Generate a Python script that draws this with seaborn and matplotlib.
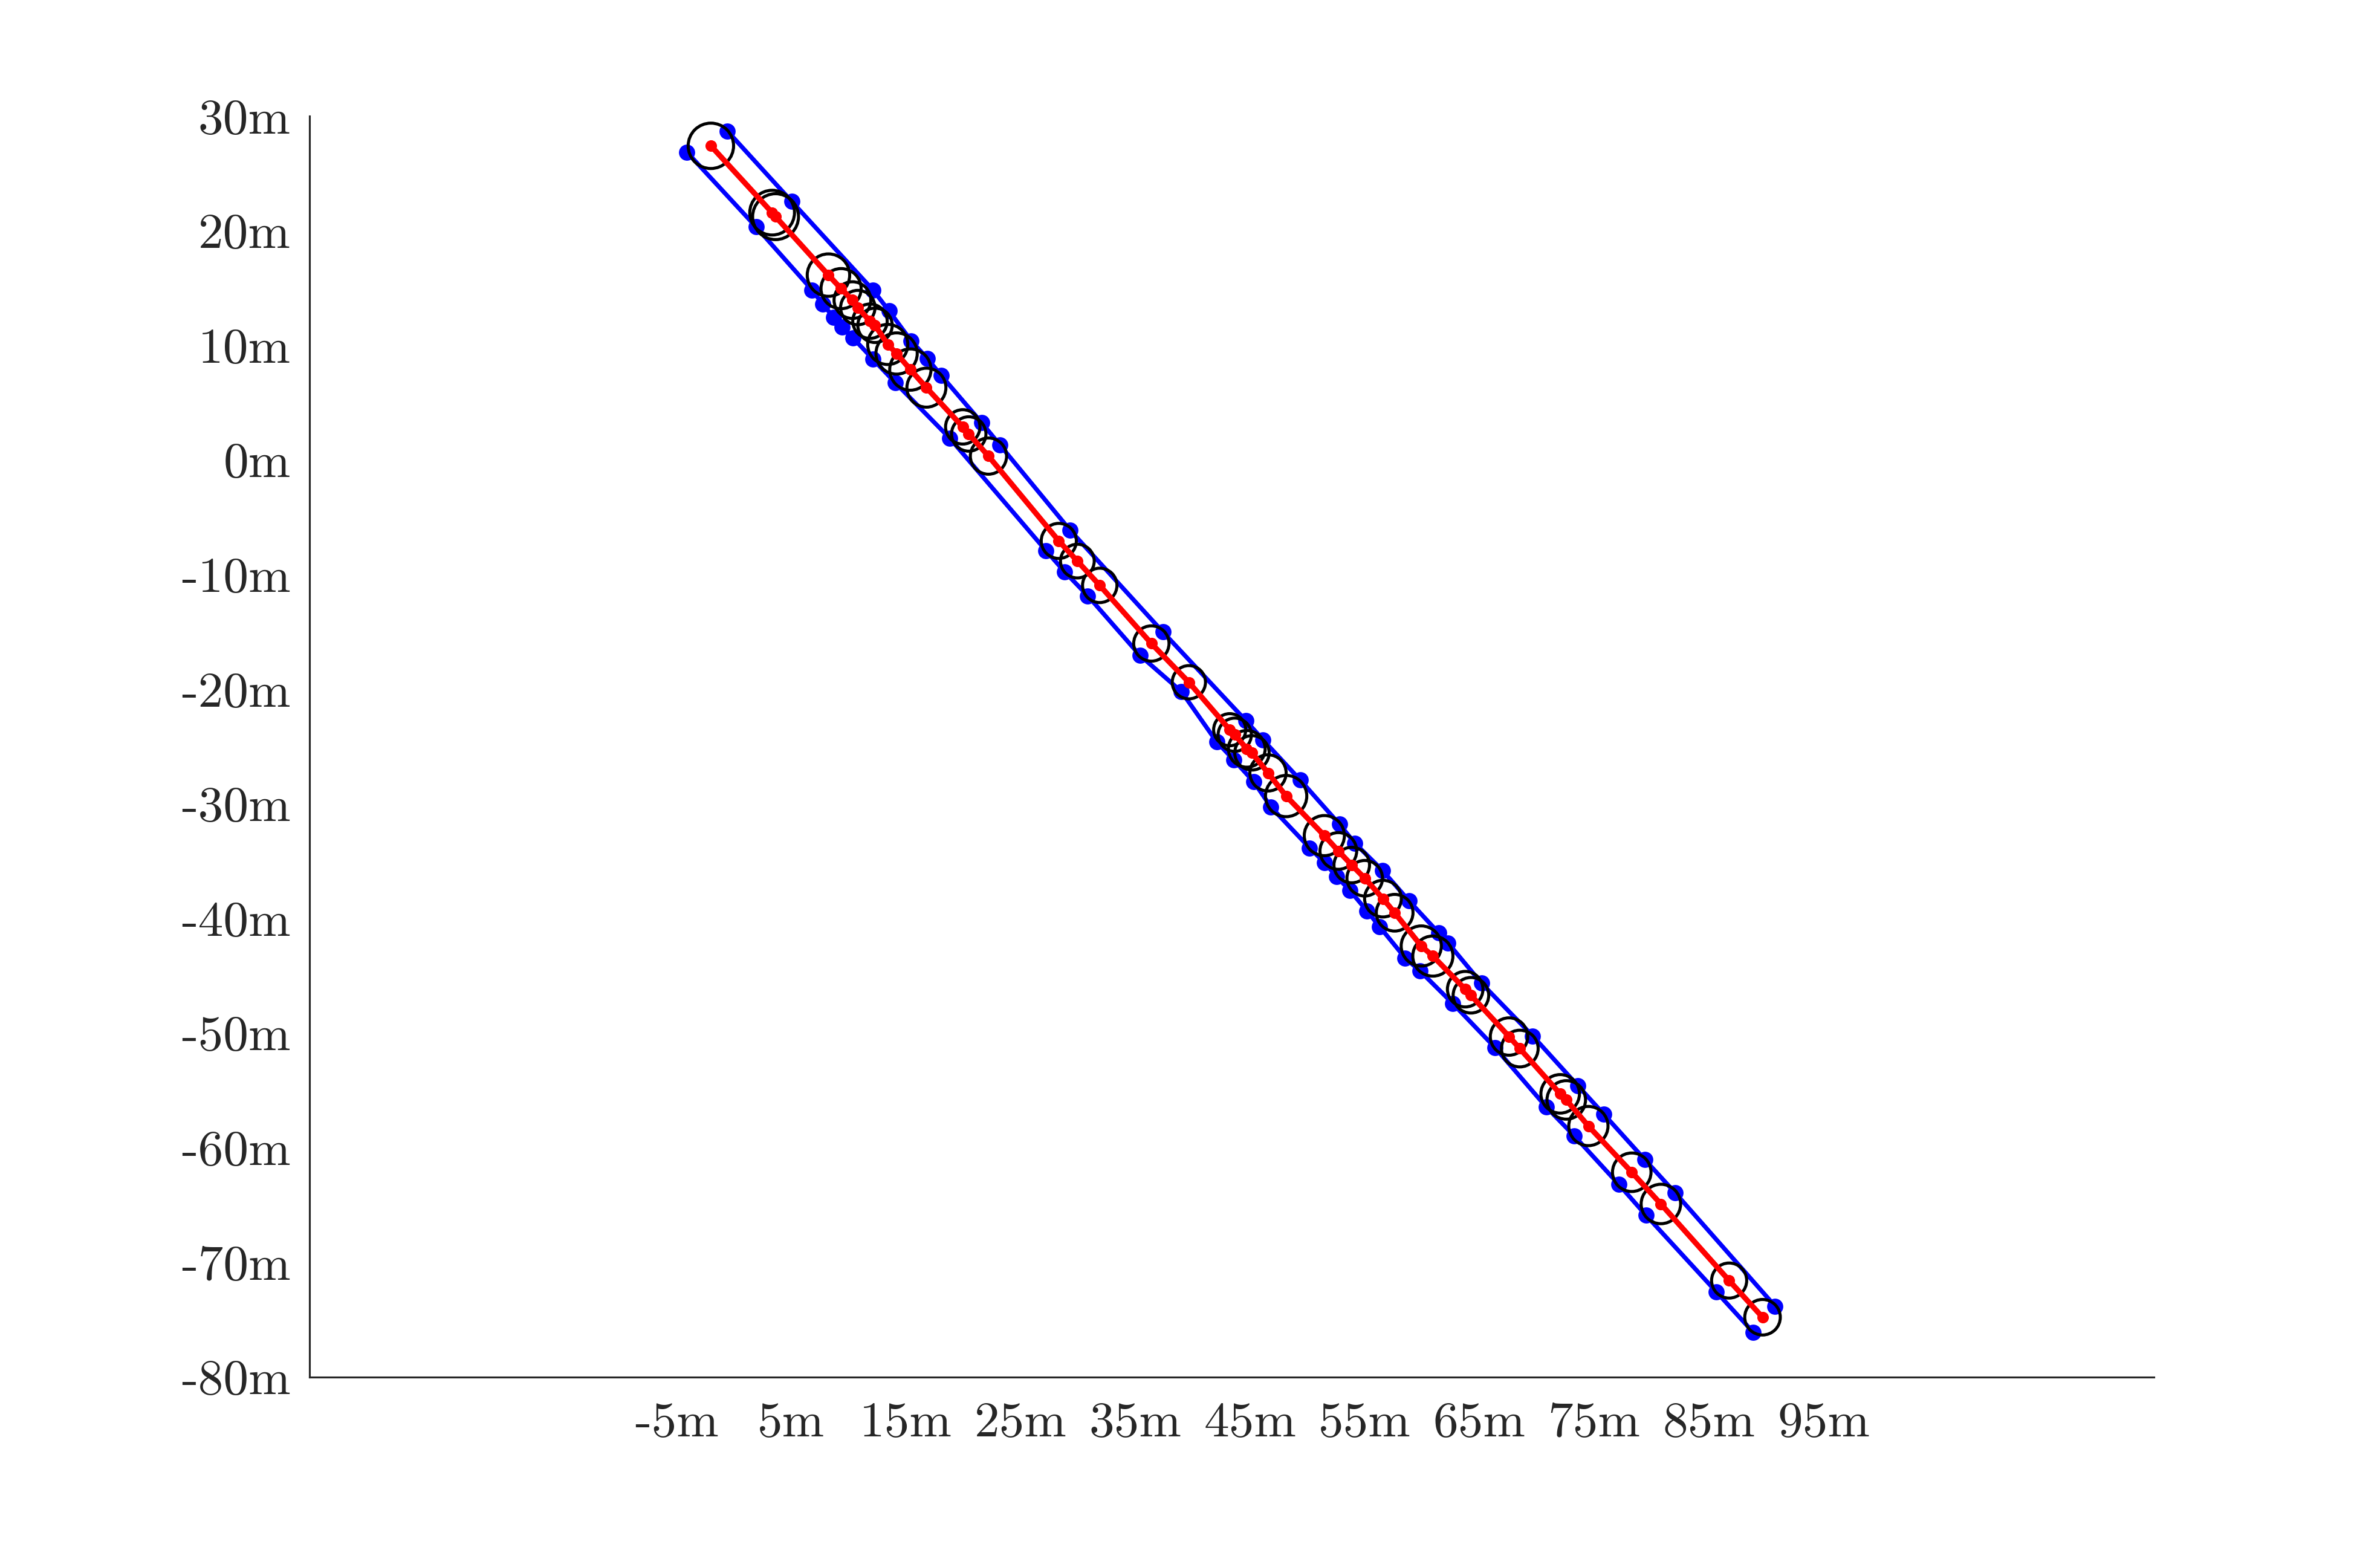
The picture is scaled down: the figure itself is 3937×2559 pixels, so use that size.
import numpy as np
import pandas as pd
import matplotlib
matplotlib.use("Agg")
import matplotlib.pyplot as plt
from matplotlib.patches import Circle
import seaborn as sns

# centre line samples (m)
center_x = [-2.00, 3.34, 3.64, 8.25, 9.35, 10.34, 10.81, 11.87, 12.31, 13.42,
            14.19, 15.39, 16.79, 19.96, 20.48, 22.20, 28.33, 29.95, 31.90, 36.40,
            39.67, 43.23, 43.67, 44.72, 45.17, 46.57, 48.15, 51.48, 52.70, 53.87,
            55.00, 56.59, 57.61, 59.93, 60.94, 63.76, 64.26, 67.58, 68.52, 72.04,
            72.57, 74.50, 78.28, 80.82, 86.77, 89.68]
center_y = [27.40, 21.57, 21.22, 16.12, 14.94, 13.94, 13.29, 12.10, 11.74, 10.07,
            9.28, 7.88, 6.30, 2.88, 2.26, 0.33, -7.07, -8.83, -10.95, -16.02,
            -19.40, -23.54, -23.98, -25.21, -25.56, -27.31, -29.33, -32.78, -34.12, -35.35,
            -36.50, -38.28, -39.51, -42.41, -43.29, -46.18, -46.71, -50.31, -51.36, -55.31,
            -55.84, -58.12, -62.15, -64.92, -71.60, -74.80]
# circle radius at each centre sample (m)
radius = [1.98, 1.95, 2.00, 1.85, 1.75, 1.60, 1.50, 1.50, 1.50, 1.75,
          1.80, 1.80, 1.70, 1.50, 1.50, 1.58, 1.53, 1.47, 1.50, 1.54,
          1.45, 1.40, 1.45, 1.60, 1.50, 1.58, 1.80, 1.75, 1.60, 1.55,
          1.55, 1.60, 1.60, 1.75, 1.75, 1.55, 1.55, 1.63, 1.60, 1.68,
          1.68, 1.71, 1.68, 1.72, 1.53, 1.55]

# right (upper) boundary samples
right_x = [-0.55, 5.05, 12.15, 13.53, 15.45, 16.87, 18.08, 21.62, 23.20, 29.32,
           37.41, 44.64, 46.13, 49.38, 52.80, 54.15, 56.55, 58.85, 61.45, 62.26,
           65.18, 69.65, 73.59, 75.83, 79.43, 82.07, 90.77]
right_y = [28.68, 22.54, 14.80, 13.00, 10.40, 8.85, 7.36, 3.23, 1.30, -6.14,
           -15.02, -22.75, -24.42, -27.93, -31.79, -33.45, -35.82, -38.46, -41.27, -42.14,
           -45.66, -50.26, -54.61, -57.07, -61.06, -63.95, -73.83]

# left (lower) boundary samples
left_x = [-4.08, 1.93, 6.82, 7.75, 8.70, 9.45, 10.38, 12.12, 14.07, 18.81,
          27.21, 28.84, 30.86, 35.40, 39.02, 42.09, 43.58, 45.34, 46.83, 50.20,
          51.52, 52.55, 53.72, 55.19, 56.31, 58.53, 59.83, 62.66, 66.36, 70.82,
          73.28, 77.15, 79.52, 85.67, 88.87]
left_y = [26.84, 20.34, 14.83, 13.59, 12.44, 11.61, 10.65, 8.80, 6.74, 1.91,
          -7.91, -9.76, -11.86, -17.05, -20.21, -24.59, -26.17, -28.10, -30.29, -33.85,
          -35.16, -36.35, -37.58, -39.34, -40.74, -43.46, -44.60, -47.41, -51.27, -56.45,
          -58.99, -63.21, -65.90, -72.60, -76.11]

xticks = [-5, 5, 15, 25, 35, 45, 55, 65, 75, 85, 95]
yticks = [30, 20, 10, 0, -10, -20, -30, -40, -50, -60, -70, -80]

sns.set_style("white")
plt.rcParams['font.family'] = ['cmr10', 'DejaVu Serif']
plt.rcParams['axes.unicode_minus'] = False
plt.rcParams['axes.formatter.use_mathtext'] = True

center = pd.DataFrame({'x': center_x, 'y': center_y})
right = pd.DataFrame({'x': right_x, 'y': right_y})
left = pd.DataFrame({'x': left_x, 'y': left_y})

fig = plt.figure(figsize=(3937 / 250, 2559 / 250), dpi=250)
ax = fig.add_axes([0.13, 0.11, 0.775, 0.815])

# boundaries
for b in (right, left):
    sns.lineplot(data=b, x='x', y='y', sort=False, estimator=None, ax=ax,
                 color='blue', lw=2.1, marker='o', markersize=7.7,
                 markeredgewidth=0, zorder=2)

# circles around centre samples
for cx, cy, r in zip(center_x, center_y, radius):
    ax.add_patch(Circle((cx, cy), r, fill=False, ec='black', lw=1.45, zorder=3))

# centre line
sns.lineplot(data=center, x='x', y='y', sort=False, estimator=None, ax=ax,
             color='red', lw=2.6, marker='o', markersize=5.5,
             markeredgewidth=0, zorder=4)

ax.set_xlim(-37.0, 123.8)
ax.set_ylim(-80, 30)
ax.set_xticks(xticks)
ax.set_xticklabels([f"{t}m" for t in xticks])
ax.set_yticks(yticks)
ax.set_yticklabels([f"{t}m" for t in yticks])
ax.set_xlabel('')
ax.set_ylabel('')

for s in ('top', 'right'):
    ax.spines[s].set_visible(False)
for s in ('left', 'bottom'):
    ax.spines[s].set_color('#262626')
    ax.spines[s].set_linewidth(0.9)
ax.tick_params(direction='in', length=8.8, width=0.9, color='#262626',
               labelcolor='#262626', labelsize=24)
ax.tick_params(axis='y', pad=9)
ax.tick_params(axis='x', pad=12)

fig.savefig('out.png', dpi=250, facecolor='white')
